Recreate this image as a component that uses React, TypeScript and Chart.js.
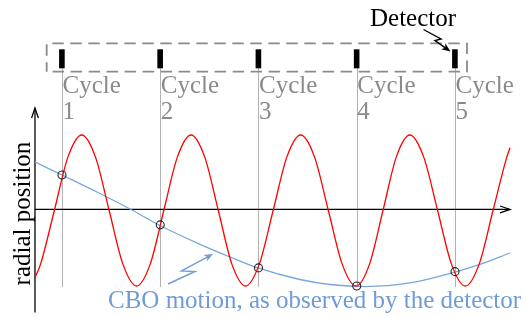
import React, { useEffect, useRef } from "react";
import { Chart, registerables } from "chart.js";

Chart.register(...registerables);

// ---- data (x in "turns": cycle n sits at x = n; y in units of the oscillation amplitude) ----
const cycleLabels = ["1", "2", "3", "4", "5"];
const cycleTimes = [1, 2, 3, 4, 5];

// fast betatron oscillation (red)
const redT = [
  0.725, 0.782, 0.922, 1.061, 1.201, 1.34, 1.48, 1.62, 1.759, 1.898, 2.036, 2.175, 2.313,
  2.452, 2.591, 2.729, 2.868, 3.008, 3.149, 3.289, 3.429, 3.57, 3.711, 3.852, 3.993, 4.13,
  4.267, 4.403, 4.54, 4.681, 4.823, 4.964, 5.105, 5.246, 5.387, 5.528, 5.56,
];
const redV = [
  -0.89, -0.71, 0, 0.71, 1, 0.71, 0, -0.71, -1, -0.71, 0, 0.71, 1,
  0.71, 0, -0.71, -1, -0.71, 0, 0.71, 1, 0.71, 0, -0.71, -1, -0.71,
  0, 0.71, 1, 0.71, 0, -0.71, -1, -0.71, 0, 0.71, 0.83,
];

// CBO motion as seen by the detector (blue)
const blueT = [0.725, 1.0, 1.387, 1.692, 1.987, 2.405, 2.71, 2.985, 3.422, 3.728, 4.084, 4.542, 5.0, 5.254, 5.56];
const blueV = [0.642, 0.47, 0.225, 0.02, -0.192, -0.448, -0.616, -0.758, -0.914, -0.98, -1.007, -0.96, -0.815, -0.715, -0.563];

// detector samples (circles)
const sampleV = [0.47, -0.19, -0.76, -1.0, -0.81];

// view window
const X_MIN = 0.368957;
const X_MAX = 5.70229;
const Y_MIN = -1.4106;
const Y_MAX = 2.7881;

const SERIF = "'Liberation Serif', 'Times New Roman', serif";
const GRAY_TEXT = "#8a8a8a";
const GRAY_LINE = "#b2b2b2";
const BLUE = "#6f9cd6";

function head(ctx: CanvasRenderingContext2D, x0: number, y0: number, x1: number, y1: number, len: number, half: number, fill: boolean) {
  const a = Math.atan2(y1 - y0, x1 - x0);
  const bx = x1 - len * Math.cos(a);
  const by = y1 - len * Math.sin(a);
  const nx = -Math.sin(a) * half;
  const ny = Math.cos(a) * half;
  ctx.beginPath();
  if (fill) {
    ctx.moveTo(x1, y1);
    ctx.lineTo(bx + nx, by + ny);
    ctx.lineTo(x1 - len * 0.7 * Math.cos(a), y1 - len * 0.7 * Math.sin(a));
    ctx.lineTo(bx - nx, by - ny);
    ctx.closePath();
    ctx.fill();
  } else {
    ctx.moveTo(bx + nx, by + ny);
    ctx.lineTo(x1, y1);
    ctx.lineTo(bx - nx, by - ny);
    ctx.stroke();
  }
}

function lightning(ctx: CanvasRenderingContext2D, pts: number[][], color: string) {
  ctx.save();
  ctx.strokeStyle = color;
  ctx.fillStyle = color;
  ctx.lineWidth = 1.4;
  ctx.beginPath();
  ctx.moveTo(pts[0][0], pts[0][1]);
  for (let i = 1; i < pts.length - 1; i++) ctx.lineTo(pts[i][0], pts[i][1]);
  const [px, py] = pts[pts.length - 2];
  const [ex, ey] = pts[pts.length - 1];
  const a = Math.atan2(ey - py, ex - px);
  ctx.lineTo(ex - 5 * Math.cos(a), ey - 5 * Math.sin(a));
  ctx.stroke();
  head(ctx, px, py, ex, ey, 9, 3.6, true);
  ctx.restore();
}

const deco = {
  id: "deco",
  beforeDatasetsDraw(chart: any) {
    const { ctx } = chart;
    const xs = chart.scales.x;
    const ys = chart.scales.y;
    const X = (v: number) => xs.getPixelForValue(v);
    const Y = (v: number) => ys.getPixelForValue(v);
    ctx.save();
    // cycle marker lines
    ctx.strokeStyle = GRAY_LINE;
    ctx.lineWidth = 1;
    cycleTimes.forEach((t) => {
      const px = Math.round(X(t)) + 0.5;
      ctx.beginPath();
      ctx.moveTo(px, Y(1.883));
      ctx.lineTo(px, Y(-1.013));
      ctx.stroke();
    });
    // axes
    ctx.strokeStyle = "#000";
    ctx.lineWidth = 1.3;
    const ax = X(0.725);
    const ay = Y(0.0146);
    const xr = X(5.56);
    ctx.beginPath();
    ctx.moveTo(ax, ay);
    ctx.lineTo(xr, ay);
    ctx.stroke();
    head(ctx, ax, ay, xr, ay, 10, 3.4, false);
    const yt = Y(1.3576);
    ctx.beginPath();
    ctx.moveTo(ax, Y(-1.351));
    ctx.lineTo(ax, yt);
    ctx.stroke();
    head(ctx, ax, Y(-1.351), ax, yt, 10, 3.4, false);
    ctx.restore();
  },
  afterDatasetsDraw(chart: any) {
    const { ctx } = chart;
    const xs = chart.scales.x;
    const ys = chart.scales.y;
    const X = (v: number) => xs.getPixelForValue(v);
    const Y = (v: number) => ys.getPixelForValue(v);
    ctx.save();

    // dashed detector ring box
    ctx.strokeStyle = GRAY_TEXT;
    ctx.lineWidth = 1.8;
    ctx.setLineDash([11.5, 6.5]);
    ctx.lineDashOffset = 2;
    const L = X(0.844), R = X(5.122), T = Y(2.2146), B = Y(1.8384);
    ctx.beginPath();
    ctx.moveTo(L, B);
    ctx.lineTo(L, T);
    ctx.lineTo(R, T);
    ctx.lineTo(R, B);
    ctx.closePath();
    ctx.stroke();
    ctx.setLineDash([]);

    // detector bars
    ctx.fillStyle = "#000";
    cycleTimes.forEach((t) => {
      const top = Y(2.135);
      ctx.fillRect(X(t) - 2.9, top, 5.6, Y(1.883) - top);
    });

    // cycle labels
    ctx.font = "25px " + SERIF;
    ctx.fillStyle = GRAY_TEXT;
    ctx.textBaseline = "alphabetic";
    ctx.textAlign = "left";
    cycleTimes.forEach((t, i) => {
      ctx.fillText("Cycle", X(t) + 0.5, Y(1.55));
      ctx.fillText(cycleLabels[i], X(t) + 0.5, Y(1.2185));
    });

    // Detector label + arrow
    ctx.fillStyle = "#000";
    ctx.fillText("Detector", X(4.135), Y(2.4437));
    lightning(
      ctx,
      [
        [X(4.6794), Y(2.3974)],
        [X(4.8575), Y(2.2715)],
        [X(4.7964), Y(2.2517)],
        [X(4.9542), Y(2.106)],
      ],
      "#000"
    );

    // CBO label + arrow
    ctx.fillStyle = BLUE;
    ctx.fillText("CBO motion, as observed by the detector", X(1.468), Y(-1.2954));
    lightning(
      ctx,
      [
        [X(2.0789), Y(-0.9735)],
        [X(2.3537), Y(-0.808)],
        [X(2.2163), Y(-0.8013)],
        [X(2.5369), Y(-0.5762)],
      ],
      BLUE
    );

    // y-axis title
    ctx.fillStyle = "#000";
    ctx.translate(X(0.6743), Y(-0.04));
    ctx.rotate(-Math.PI / 2);
    ctx.textAlign = "center";
    ctx.fillText("radial position", 0, 0);
    ctx.restore();
  },
};

export default function App() {
  const ref = useRef<HTMLCanvasElement | null>(null);
  useEffect(() => {
    if (!ref.current) return;
    const red = redT.map((t, i) => ({ x: t, y: redV[i] }));
    const blue = blueT.map((t, i) => ({ x: t, y: blueV[i] }));
    const samples = cycleTimes.map((t, i) => ({ x: t, y: sampleV[i] }));
    const chart = new Chart(ref.current, {
      type: "line",
      data: {
        datasets: [
          {
            label: "samples",
            data: samples,
            showLine: false,
            pointRadius: 4,
            pointHoverRadius: 4,
            pointBorderColor: "#222",
            pointBackgroundColor: "rgba(0,0,0,0)",
            pointBorderWidth: 1.1,
            order: 0,
          } as any,
          {
            label: "betatron",
            data: red,
            borderColor: "#ff0000",
            borderWidth: 1.3,
            pointRadius: 0,
            cubicInterpolationMode: "monotone",
            fill: false,
            order: 1,
          } as any,
          {
            label: "CBO",
            data: blue,
            borderColor: "#78a6dc",
            borderWidth: 1.3,
            pointRadius: 0,
            cubicInterpolationMode: "monotone",
            fill: false,
            order: 2,
          } as any,
        ],
      },
      options: {
        responsive: false,
        animation: false,
        devicePixelRatio: 1,
        events: [],
        layout: { padding: 0, autoPadding: false },
        plugins: { legend: { display: false }, tooltip: { enabled: false } },
        scales: {
          x: { type: "linear", display: false, min: X_MIN, max: X_MAX },
          y: { type: "linear", display: false, min: Y_MIN, max: Y_MAX },
        },
      } as any,
      plugins: [deco],
    });
    return () => chart.destroy();
  }, []);
  return (
    <div style={{ position: "fixed", left: 0, top: 0, width: 524, height: 317, background: "#fff" }}>
      <canvas ref={ref} width={524} height={317} style={{ display: "block" }} />
    </div>
  );
}
